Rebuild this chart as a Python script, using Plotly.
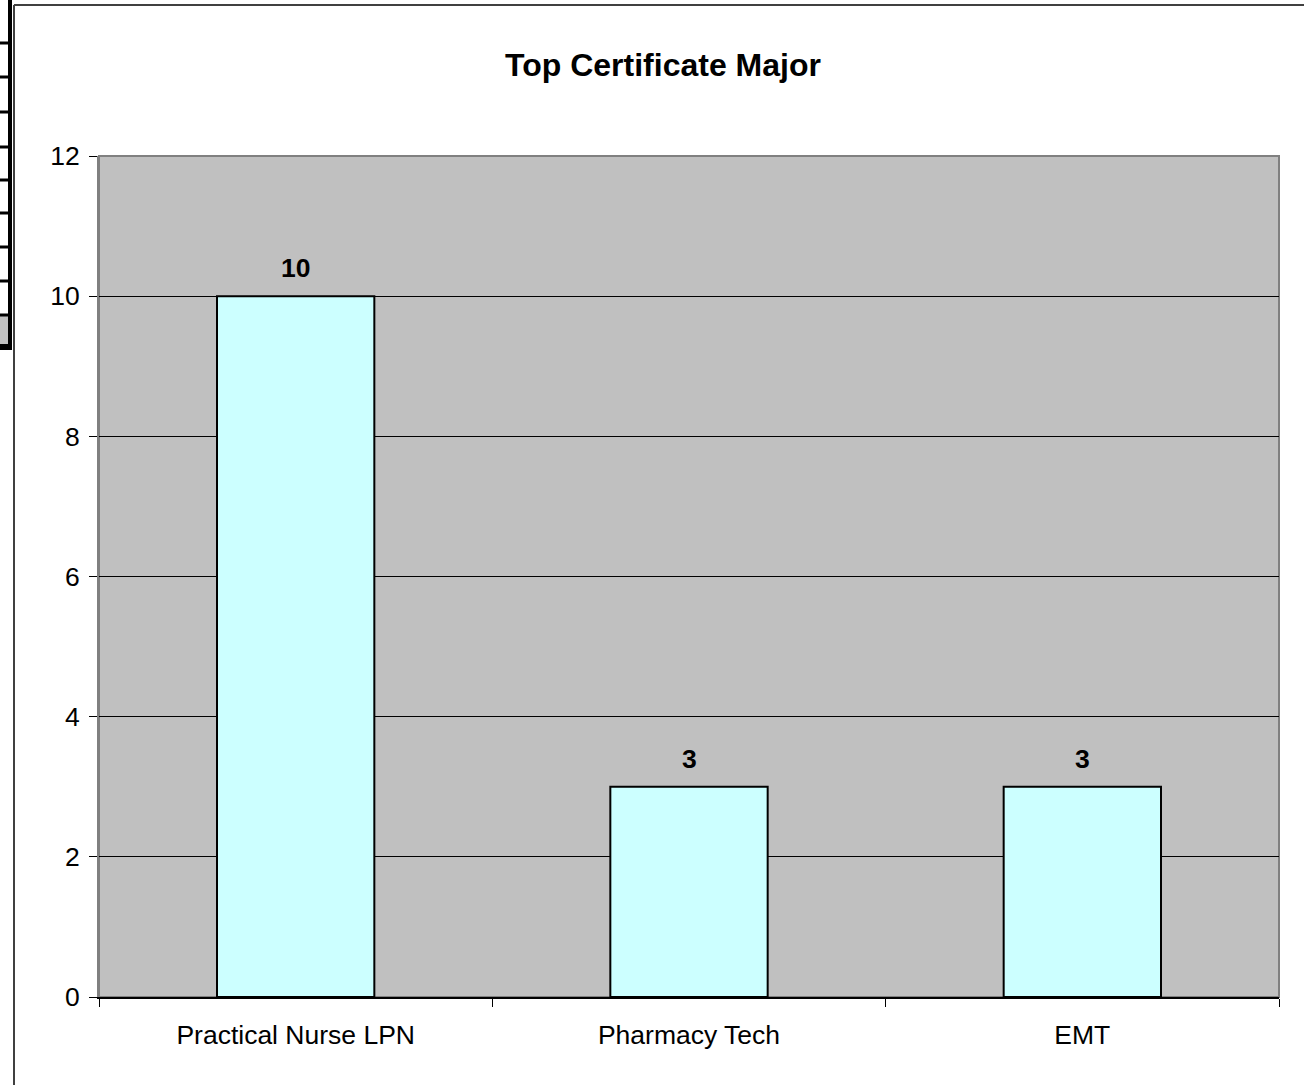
import plotly.graph_objects as go

# ---- data ----
categories = ["Practical Nurse LPN", "Pharmacy Tech", "EMT"]
values = [10, 3, 3]
y_ticks = [0, 2, 4, 6, 8, 10, 12]
title_text = "Top Certificate Major"

W, H = 1304, 1085
L, R, T, B = 99, 25, 156, 88
PW, PH = W - L - R, H - T - B

def px_x(px):
    return (px - L) / PW

def px_y(py):
    return (H - B - py) / PH

FONT = "Liberation Sans, Arial, sans-serif"
FS = 26.5

fig = go.Figure()
fig.add_trace(go.Bar(
    x=categories, y=values, width=0.4,
    marker=dict(color="#CCFFFF", line=dict(color="black", width=2)),
    hoverinfo="x+y", showlegend=False,
))

# data labels
for c, v in zip(categories, values):
    fig.add_annotation(x=c, y=v, text=f"<b>{v}</b>", showarrow=False,
                       yanchor="middle", yshift=28,
                       font=dict(family=FONT, size=FS, color="black"))

shapes = []
# plot-area border (top/right), gray
shapes.append(dict(type="rect", xref="paper", yref="paper", x0=0, x1=1, y0=0, y1=1,
                   line=dict(color="#808080", width=2), layer="below"))
# chart-area border: left and top lines
shapes.append(dict(type="line", xref="paper", yref="paper",
                   x0=px_x(14), x1=px_x(14), y0=px_y(5), y1=px_y(H + 5),
                   line=dict(color="#404040", width=2)))
shapes.append(dict(type="line", xref="paper", yref="paper",
                   x0=px_x(14), x1=px_x(W + 5), y0=px_y(5), y1=px_y(5),
                   line=dict(color="#404040", width=2)))
# cropped spreadsheet fragment on the far left
shapes.append(dict(type="rect", xref="paper", yref="paper",
                   x0=px_x(-2), x1=px_x(12), y0=px_y(-2), y1=px_y(350),
                   fillcolor="black", line=dict(width=0)))
row_edges = [-2, 43, 77, 112, 147, 180, 213, 247, 281, 315]
for i in range(len(row_edges) - 1):
    top = row_edges[i] + 1.5
    bot = row_edges[i + 1] - 1.5
    shapes.append(dict(type="rect", xref="paper", yref="paper",
                       x0=px_x(-2), x1=px_x(8), y0=px_y(top), y1=px_y(bot),
                       fillcolor="white", line=dict(width=0)))
shapes.append(dict(type="rect", xref="paper", yref="paper",
                   x0=px_x(-2), x1=px_x(8), y0=px_y(316.5), y1=px_y(344),
                   fillcolor="#C0C0C0", line=dict(width=0)))

fig.update_layout(
    width=W, height=H,
    margin=dict(l=L, r=R, t=T, b=B, pad=0),
    paper_bgcolor="white", plot_bgcolor="#C0C0C0",
    font=dict(family=FONT, size=FS, color="black"),
    title=dict(text=f"<b>{title_text}</b>", xref="paper", x=px_x(663), xanchor="center",
               yref="container", y=1 - 65 / H, yanchor="middle",
               font=dict(family=FONT, size=32, color="black")),
    shapes=shapes,
    bargap=0.6,
)
fig.update_xaxes(
    type="category", tickson="boundaries", ticks="outside", ticklen=8, tickwidth=1,
    tickcolor="black", showline=True, linecolor="black", linewidth=1.5,
    showgrid=False, zeroline=False, tickfont=dict(family=FONT, size=FS),
    ticklabelstandoff=13, fixedrange=True,
)
fig.update_yaxes(
    range=[0, 12], tickvals=y_ticks, ticks="outside", ticklen=8, tickwidth=1,
    tickcolor="black", showline=True, linecolor="#808080", linewidth=2,
    showgrid=True, gridcolor="black", gridwidth=1, zeroline=False,
    tickfont=dict(family=FONT, size=FS), ticklabelstandoff=4, fixedrange=True,
)

fig.write_html("out.html", config={"displayModeBar": False},
               post_script="document.body.style.margin='0';document.body.style.overflow='hidden';")
